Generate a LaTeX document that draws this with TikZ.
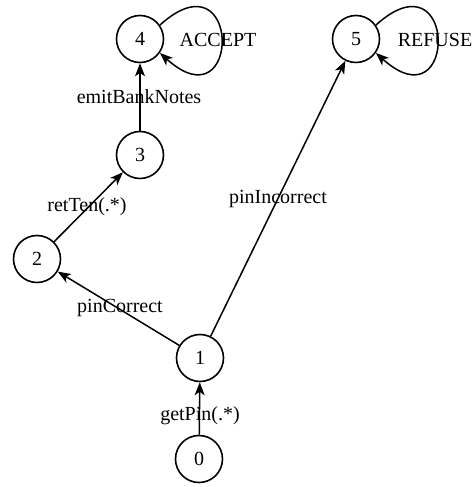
\documentclass[tikz,border=0pt]{standalone}
\usepackage{fontspec}
\setmainfont{Liberation Serif}
\usetikzlibrary{arrows.meta}
\begin{document}
\begin{tikzpicture}[x=1pt,y=1pt,
  state/.style={circle,draw,line width=1.6pt,minimum size=47pt,inner sep=0pt,font=\fontsize{20}{24}\selectfont},
  lbl/.style={inner sep=0pt,font=\fontsize{20}{24}\selectfont},
  edge/.style={line width=1.5pt,-{Stealth[length=13pt,width=10pt,inset=3.5pt]}}]
\useasboundingbox (0,0) rectangle (474,487);
\node[state] (n4) at (140,448) {4};
\node[state] (n5) at (356,448) {5};
\node[state] (n3) at (140,332) {3};
\node[state] (n2) at (37,228) {2};
\node[state] (n1) at (200,129) {1};
\node[state] (n0) at (199,28) {0};
\draw[edge] (n0) -- (n1);
\draw[edge] (n1) -- (n2);
\draw[edge] (n1) -- (n5);
\draw[edge] (n2) -- (n3);
\draw[edge] (n3) -- (n4);
\draw[edge] (n4.35) .. controls +(82,74) and +(82,-74) .. (n4.-35);
\draw[edge] (n5.35) .. controls +(82,74) and +(82,-74) .. (n5.-35);
\node[lbl] (l4) at (218,447) {ACCEPT};
\node[lbl] (l5) at (435,447) {REFUSE};
\node[lbl] (l34) at (139,390) {emitBankNotes};
\node[lbl] (l15) at (278,288) {pinIncorrect};
\node[lbl] (l23) at (87,280) {retTen(.*)};
\node[lbl] (l12) at (120,179) {pinCorrect};
\node[lbl] (l01) at (200,71) {getPin(.*)};
\end{tikzpicture}
\end{document}
